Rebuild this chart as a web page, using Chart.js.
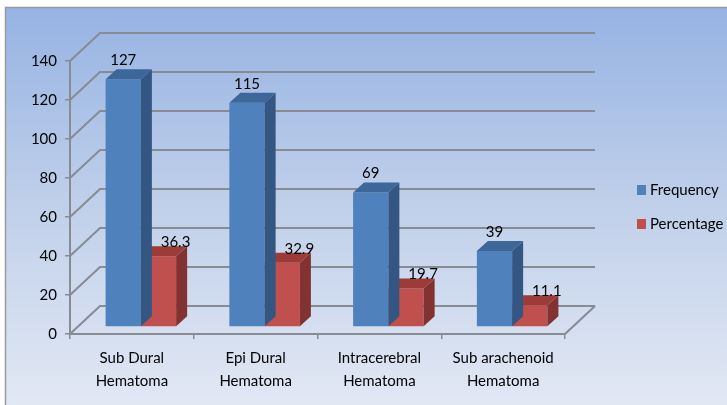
<!DOCTYPE html>
<html>
<head>
<meta charset="utf-8">
<title>Hematoma types</title>
<script src="https://cdn.jsdelivr.net/npm/chart.js@4.4.1/dist/chart.umd.min.js"></script>
<style>
  html, body { margin: 0; padding: 0; background: #fff; }
  canvas { display: block; }
</style>
</head>
<body>
<canvas id="hematomaChart" width="727" height="405"></canvas>
<script>
const categories = [
  ["Sub Dural", "Hematoma"],
  ["Epi Dural", "Hematoma"],
  ["Intracerebral", "Hematoma"],
  ["Sub arachenoid", "Hematoma"],
];
const frequency = [127, 115, 69, 39];
const percentage = [36.3, 32.9, 19.7, 11.1];
const seriesNames = ["Frequency", "Percentage"];
const yMin = 0;
const yMax = 140;
const yStep = 20;

const fontFamily = "Lato, 'Open Sans', sans-serif";
const gridGray = "#878b93";

// colours for front / top / side faces of each series
const faces = [
  { front: "#4f81bd", top: "#3d6699", side: "#335683" },
  { front: "#c0504d", top: "#9c3b38", side: "#823230" },
];

// depth of the walls and of each bar, plus how far bars sit inside the box
const wall = { dx: 30, dy: -28 };
const barDepth = { dx: 11, dy: -10 };
const barShift = { dx: 9, dy: -7 };

const box3d = {
  id: "box3d",
  beforeDraw(chart) {
    const { ctx, width, height } = chart;
    ctx.save();
    ctx.fillStyle = "#fff";
    ctx.fillRect(0, 0, width, height);
    const g = ctx.createLinearGradient(0, 7, 0, height);
    g.addColorStop(0, "#96b3e3");
    g.addColorStop(0.5, "#c0d0ea");
    g.addColorStop(1, "#e2e8f4");
    ctx.fillStyle = g;
    ctx.fillRect(5, 7, width - 5, height - 7);
    ctx.strokeStyle = "#9a9a9a";
    ctx.lineWidth = 1.5;
    ctx.beginPath();
    ctx.moveTo(5.5, height);
    ctx.lineTo(5.5, 7.5);
    ctx.lineTo(width, 7.5);
    ctx.stroke();
    ctx.restore();
  },
  beforeDatasetsDraw(chart) {
    const { ctx, chartArea: a, scales } = chart;
    const y = scales.y;
    ctx.save();
    ctx.strokeStyle = gridGray;
    ctx.lineWidth = 2;
    ctx.beginPath();
    y.ticks.forEach((t) => {
      const py = y.getPixelForValue(t.value);
      ctx.moveTo(a.left, py);
      ctx.lineTo(a.left + wall.dx, py + wall.dy);
      ctx.lineTo(a.right + wall.dx, py + wall.dy);
    });
    // right edge of the floor
    ctx.moveTo(a.right, a.bottom);
    ctx.lineTo(a.right + wall.dx, a.bottom + wall.dy);
    ctx.stroke();
    ctx.restore();

    ctx.save();
    ctx.translate(barShift.dx, barShift.dy);
  },
  afterDatasetDraw(chart, args) {
    const { ctx } = chart;
    const f = faces[args.index];
    args.meta.data.forEach((bar) => {
      const { x, y, base, width } = bar.getProps(["x", "y", "base", "width"], true);
      const l = x - width / 2;
      const r = x + width / 2;
      ctx.fillStyle = f.side;
      ctx.beginPath();
      ctx.moveTo(r, y);
      ctx.lineTo(r + barDepth.dx, y + barDepth.dy);
      ctx.lineTo(r + barDepth.dx, base + barDepth.dy);
      ctx.lineTo(r, base);
      ctx.closePath();
      ctx.fill();
      ctx.fillStyle = f.top;
      ctx.beginPath();
      ctx.moveTo(l, y);
      ctx.lineTo(r, y);
      ctx.lineTo(r + barDepth.dx, y + barDepth.dy);
      ctx.lineTo(l + barDepth.dx, y + barDepth.dy);
      ctx.closePath();
      ctx.fill();
    });
  },
  afterDatasetsDraw(chart) {
    const { ctx } = chart;
    // value labels, still inside the bar offset
    ctx.font = "15px " + fontFamily;
    ctx.fillStyle = "#000";
    ctx.textAlign = "center";
    ctx.textBaseline = "middle";
    chart.data.datasets.forEach((ds, i) => {
      const meta = chart.getDatasetMeta(i);
      meta.data.forEach((bar, j) => {
        const { x, y } = bar.getProps(["x", "y"], true);
        const ox = i === 0 ? 0 : 17;
        const oy = i === 0 ? -19 : -14;
        ctx.fillText(String(ds.data[j]), x + ox, y + oy);
      });
    });
    ctx.restore();
  },
  afterDraw(chart) {
    const { ctx } = chart;
    ctx.save();
    ctx.font = "15px " + fontFamily;
    ctx.textBaseline = "middle";
    ctx.textAlign = "left";
    chart.data.datasets.forEach((ds, i) => {
      const top = 185 + i * 34;
      ctx.fillStyle = ds.backgroundColor;
      ctx.fillRect(637, top, 9, 10);
      ctx.fillStyle = "#000";
      ctx.fillText(ds.label, 650, top + 5);
    });
    ctx.restore();
  },
};

const ctx = document.getElementById("hematomaChart").getContext("2d");
new Chart(ctx, {
  type: "bar",
  data: {
    labels: categories,
    datasets: [
      { label: seriesNames[0], data: frequency, backgroundColor: faces[0].front },
      { label: seriesNames[1], data: percentage, backgroundColor: faces[1].front },
    ],
  },
  options: {
    responsive: false,
    animation: false,
    categoryPercentage: 0.57,
    barPercentage: 1,
    layout: { padding: { top: 61, right: 162, bottom: 0, left: 0 } },
    plugins: {
      legend: { display: false },
      tooltip: { enabled: false },
    },
    scales: {
      x: {
        afterFit: (s) => { s.height = 71; },
        grid: { drawOnChartArea: false, tickLength: 5, color: gridGray, lineWidth: 1.5 },
        border: { color: gridGray, width: 2 },
        ticks: { color: "#000", padding: 8, font: { family: fontFamily, size: 15, lineHeight: 1.5 } },
      },
      y: {
        min: yMin,
        max: yMax,
        afterFit: (s) => { s.width = 70; },
        grid: { drawOnChartArea: false, tickLength: 5, color: gridGray, lineWidth: 1.5 },
        border: { color: gridGray, width: 2 },
        ticks: { stepSize: yStep, color: "#000", padding: 8, font: { family: fontFamily, size: 15 } },
      },
    },
  },
  plugins: [box3d],
});
</script>
</body>
</html>
